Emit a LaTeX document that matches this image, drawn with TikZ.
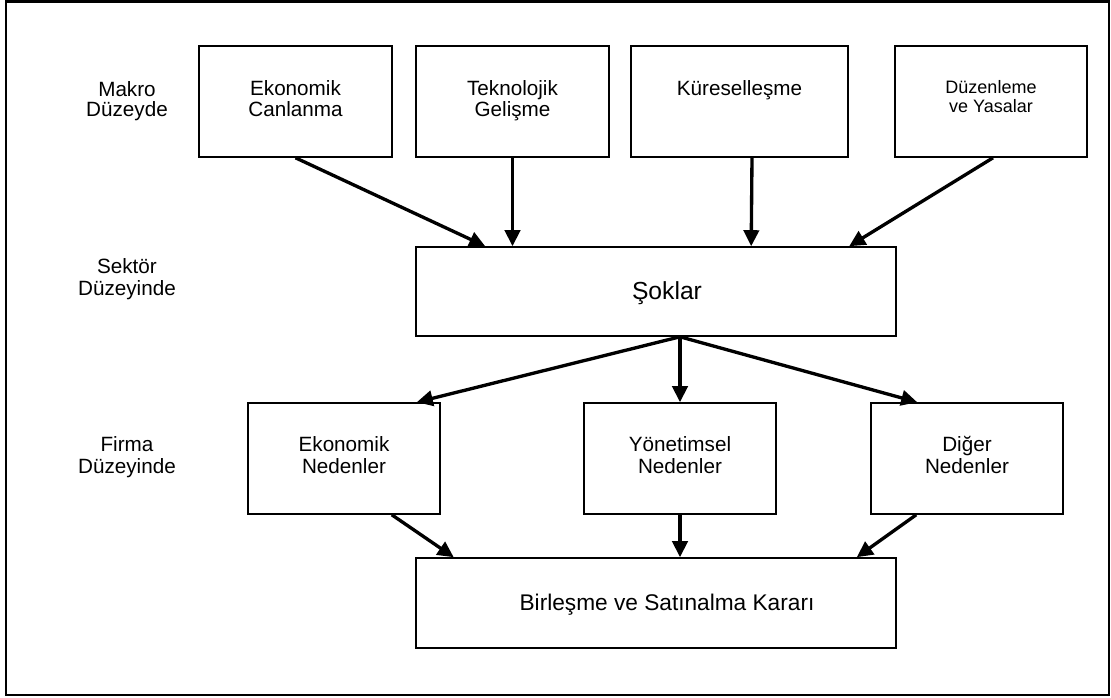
\documentclass[tikz,border=0pt]{standalone}
\usepackage{fontspec}
\setmainfont{Liberation Sans}
\usetikzlibrary{calc,arrows.meta}
\begin{document}
\begin{tikzpicture}[x=0.75pt,y=-0.75pt,
  box/.style={draw,line width=1.2pt,inner sep=0pt,fill=white},
  txt/.style={anchor=base,inner sep=0pt,font=\fontsize{15.5}{18}\selectfont},
  small/.style={anchor=base,inner sep=0pt,font=\fontsize{13.5}{16}\selectfont},
  big/.style={anchor=base,inner sep=0pt,font=\fontsize{18.5}{22}\selectfont},
  mid/.style={anchor=base,inner sep=0pt,font=\fontsize{17}{20}\selectfont},
  arr/.style={line width=2.5pt,-{Triangle[length=12pt,width=11.5pt]}}]
\useasboundingbox (0,0) rectangle (1111,698);
\draw[line width=1.8pt] (6,1.5) rectangle (1109,695);
% level labels
\node[txt] (l1a) at (127,97) {Makro};
\node[txt] (l1b) at (127,117) {Düzeyde};
\node[txt] (l2a) at (127,274) {Sektör};
\node[txt] (l2b) at (127,296) {Düzeyinde};
\node[txt] (l3a) at (127,452) {Firma};
\node[txt] (l3b) at (127,474) {Düzeyinde};
% top boxes
\node[box,minimum width=193*0.75pt,minimum height=111*0.75pt] (ec) at (295.5,101.5) {};
\node[txt] (ect1) at (295.5,96) {Ekonomik};
\node[txt] (ect2) at (295.5,117) {Canlanma};
\node[box,minimum width=193*0.75pt,minimum height=111*0.75pt] (tg) at (512.5,101.5) {};
\node[txt] (tgt1) at (512.5,96) {Teknolojik};
\node[txt] (tgt2) at (512.5,117) {Gelişme};
\node[box,minimum width=217*0.75pt,minimum height=111*0.75pt] (ku) at (739.5,101.5) {};
\node[txt] (kut) at (739.5,96) {Küreselleşme};
\node[box,minimum width=192*0.75pt,minimum height=111*0.75pt] (dy) at (991,101.5) {};
\node[small] (dyt1) at (991,94) {Düzenleme};
\node[small] (dyt2) at (991,113) {ve Yasalar};
% middle
\node[box,minimum width=480*0.75pt,minimum height=89*0.75pt] (sok) at (656,291.5) {};
\node[big] (sokt) at (667,300) {Şoklar};
% firm level
\node[box,minimum width=192*0.75pt,minimum height=111*0.75pt] (en) at (344,458.5) {};
\node[txt] (ent1) at (344,452) {Ekonomik};
\node[txt] (ent2) at (344,474) {Nedenler};
\node[box,minimum width=192*0.75pt,minimum height=111*0.75pt] (yn) at (680,458.5) {};
\node[txt] (ynt1) at (680,452) {Yönetimsel};
\node[txt] (ynt2) at (680,474) {Nedenler};
\node[box,minimum width=192*0.75pt,minimum height=111*0.75pt] (dn) at (967,458.5) {};
\node[txt] (dnt1) at (967,452) {Diğer};
\node[txt] (dnt2) at (967,474) {Nedenler};
% bottom
\node[box,minimum width=480*0.75pt,minimum height=90*0.75pt] (bs) at (656,603) {};
\node[mid] (bst) at (667,610) {Birleşme ve Satınalma Kararı};
% arrows top
\draw[arr] (ec.south) -- ($(sok.north west)+(70,0)$);
\draw[arr] (tg.south) -- (tg.south |- sok.north);
\draw[arr] ($(ku.south)+(12.5,0)$) -- ($(sok.north west)+(336,0)$);
\draw[arr] ($(dy.south)+(2,0)$) -- ($(sok.north west)+(434,0)$);
% arrows from sok
\coordinate (s0) at ($(sok.south)+(24,0)$);
\draw[arr] (s0) -- ($(en.north east)+(-24,0)$);
\draw[arr] (s0) -- (yn.north);
\draw[arr] (s0) -- ($(dn.north west)+(47,0)$);
% arrows to bottom
\draw[arr] ($(en.south east)+(-49,0)$) -- ($(bs.north west)+(38.5,0)$);
\draw[arr] (yn.south) -- (yn.south |- bs.north);
\draw[arr] ($(dn.south west)+(46,0)$) -- ($(bs.north east)+(-40,0)$);
\end{tikzpicture}
\end{document}
